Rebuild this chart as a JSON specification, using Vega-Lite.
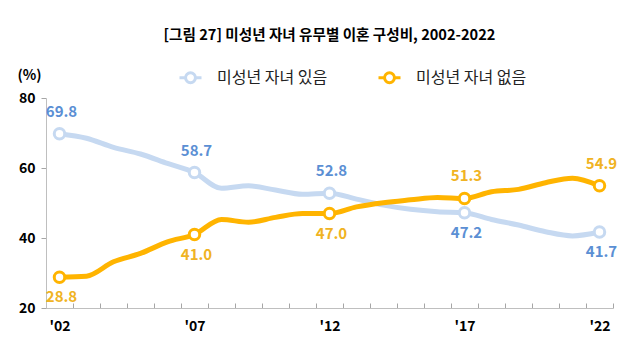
{
  "$schema": "https://vega.github.io/schema/vega-lite/v6.json",
  "width": 567,
  "height": 210,
  "autosize": {"type": "none"},
  "padding": {"left": 46, "top": 98, "right": 15, "bottom": 47},
  "background": "white",
  "title": {
    "text": "[그림 27] 미성년 자녀 유무별 이혼 구성비, 2002-2022",
    "font": "Noto Sans CJK KR",
    "fontSize": 14.6,
    "fontWeight": "bold",
    "color": "#000000",
    "anchor": "middle",
    "offset": 22
  },
  "config": {
    "view": {"stroke": null},
    "font": "Noto Sans CJK KR"
  },
  "data": {
    "values": [
      {"year": 2002, "series": "미성년 자녀 있음", "value": 69.8},
      {"year": 2003, "series": "미성년 자녀 있음", "value": 68.5},
      {"year": 2004, "series": "미성년 자녀 있음", "value": 65.9},
      {"year": 2005, "series": "미성년 자녀 있음", "value": 64.0},
      {"year": 2006, "series": "미성년 자녀 있음", "value": 61.3},
      {"year": 2007, "series": "미성년 자녀 있음", "value": 58.7},
      {"year": 2008, "series": "미성년 자녀 있음", "value": 54.2},
      {"year": 2009, "series": "미성년 자녀 있음", "value": 54.9},
      {"year": 2010, "series": "미성년 자녀 있음", "value": 53.7},
      {"year": 2011, "series": "미성년 자녀 있음", "value": 52.5},
      {"year": 2012, "series": "미성년 자녀 있음", "value": 52.8},
      {"year": 2013, "series": "미성년 자녀 있음", "value": 51.1},
      {"year": 2014, "series": "미성년 자녀 있음", "value": 49.4},
      {"year": 2015, "series": "미성년 자녀 있음", "value": 48.2},
      {"year": 2016, "series": "미성년 자녀 있음", "value": 47.5},
      {"year": 2017, "series": "미성년 자녀 있음", "value": 47.2},
      {"year": 2018, "series": "미성년 자녀 있음", "value": 45.3},
      {"year": 2019, "series": "미성년 자녀 있음", "value": 43.7},
      {"year": 2020, "series": "미성년 자녀 있음", "value": 41.8},
      {"year": 2021, "series": "미성년 자녀 있음", "value": 40.6},
      {"year": 2022, "series": "미성년 자녀 있음", "value": 41.7},
      {"year": 2002, "series": "미성년 자녀 없음", "value": 28.8},
      {"year": 2003, "series": "미성년 자녀 없음", "value": 29.1},
      {"year": 2004, "series": "미성년 자녀 없음", "value": 33.2},
      {"year": 2005, "series": "미성년 자녀 없음", "value": 35.6},
      {"year": 2006, "series": "미성년 자녀 없음", "value": 38.9},
      {"year": 2007, "series": "미성년 자녀 없음", "value": 41.0},
      {"year": 2008, "series": "미성년 자녀 없음", "value": 45.3},
      {"year": 2009, "series": "미성년 자녀 없음", "value": 44.5},
      {"year": 2010, "series": "미성년 자녀 없음", "value": 45.9},
      {"year": 2011, "series": "미성년 자녀 없음", "value": 47.0},
      {"year": 2012, "series": "미성년 자녀 없음", "value": 47.0},
      {"year": 2013, "series": "미성년 자녀 없음", "value": 48.9},
      {"year": 2014, "series": "미성년 자녀 없음", "value": 50.1},
      {"year": 2015, "series": "미성년 자녀 없음", "value": 50.9},
      {"year": 2016, "series": "미성년 자녀 없음", "value": 51.6},
      {"year": 2017, "series": "미성년 자녀 없음", "value": 51.3},
      {"year": 2018, "series": "미성년 자녀 없음", "value": 53.2},
      {"year": 2019, "series": "미성년 자녀 없음", "value": 53.9},
      {"year": 2020, "series": "미성년 자녀 없음", "value": 55.8},
      {"year": 2021, "series": "미성년 자녀 없음", "value": 57.1},
      {"year": 2022, "series": "미성년 자녀 없음", "value": 54.9}
    ]
  },
  "encoding": {
    "x": {
      "field": "year",
      "type": "ordinal",
      "scale": {"type": "band", "paddingInner": 0, "paddingOuter": 0},
      "axis": {
        "title": null,
        "labelAngle": 0,
        "labelExpr": "(datum.value - 2002) % 5 == 0 ? \"'\" + slice(toString(datum.value), 2) : ''",
        "labelFont": "Noto Sans CJK KR",
        "labelFontSize": 14,
        "labelFontWeight": "bold",
        "labelColor": "#000000",
        "labelPadding": 16,
        "tickBand": "extent",
        "tickSize": -5,
        "tickColor": "#a6a6a6",
        "domainColor": "#bfbfbf",
        "domainWidth": 1,
        "grid": false
      }
    },
    "y": {
      "field": "value",
      "type": "quantitative",
      "scale": {"domain": [20, 80], "nice": false, "zero": false},
      "axis": {
        "title": "(%)",
        "titleAngle": 0,
        "titleX": -17,
        "titleY": -23,
        "titleAlign": "center",
        "titleBaseline": "middle",
        "titleFont": "Noto Sans CJK KR",
        "titleFontSize": 14,
        "titleFontWeight": "bold",
        "titleColor": "#000000",
        "values": [20, 40, 60, 80],
        "labelFont": "Noto Sans CJK KR",
        "labelFontSize": 14,
        "labelFontWeight": "bold",
        "labelColor": "#000000",
        "labelPadding": 6,
        "tickSize": 5,
        "tickColor": "#a6a6a6",
        "domainColor": "#bfbfbf",
        "grid": false
      }
    }
  },
  "layer": [
    {
      "mark": {"type": "line", "interpolate": "monotone", "strokeWidth": 5},
      "encoding": {
        "color": {
          "field": "series",
          "type": "nominal",
          "scale": {
            "domain": ["미성년 자녀 있음", "미성년 자녀 없음"],
            "range": ["#c6d9f1", "#ffb400"]
          },
          "legend": {
            "title": null,
            "orient": "none",
            "direction": "horizontal",
            "legendX": 132,
            "legendY": -33,
            "symbolType": "M-1,0 L-0.45,0 M0.45,0 L1,0 M0.45,0 A0.45,0.45 0 1,1 -0.45,0 A0.45,0.45 0 1,1 0.45,0",
            "symbolSize": 484,
            "symbolStrokeWidth": 3,
            "symbolFillColor": "white",
            "symbolOpacity": 1,
            "labelFont": "Noto Sans CJK KR",
            "labelFontSize": 16,
            "labelColor": "#222222",
            "labelOffset": 14,
            "columnPadding": 44
          }
        },
        "order": {"field": "year"}
      }
    },
    {
      "transform": [{"filter": "(datum.year - 2002) % 5 == 0"}],
      "mark": {"type": "point", "filled": true, "fill": "white", "size": 110, "strokeWidth": 3, "opacity": 1},
      "encoding": {
        "stroke": {
          "condition": {"test": "datum.series == '미성년 자녀 있음'", "value": "#c6d9f1"},
          "value": "#ffb400"
        }
      }
    },
    {
      "transform": [
        {"filter": "(datum.year - 2002) % 5 == 0"},
        {"filter": "(datum.series == '미성년 자녀 있음' && datum.year <= 2012) || (datum.series == '미성년 자녀 없음' && datum.year >= 2017)"}
      ],
      "mark": {"type": "text", "dy": -22, "dx": 2, "fontSize": 15, "fontWeight": "bold", "font": "Noto Sans CJK KR"},
      "encoding": {
        "text": {"field": "value", "type": "quantitative", "format": ".1f"},
        "fill": {
          "condition": {"test": "datum.series == '미성년 자녀 있음'", "value": "#5b8fd4"},
          "value": "#f0b323"
        }
      }
    },
    {
      "transform": [
        {"filter": "(datum.year - 2002) % 5 == 0"},
        {"filter": "(datum.series == '미성년 자녀 있음' && datum.year >= 2017) || (datum.series == '미성년 자녀 없음' && datum.year <= 2012)"}
      ],
      "mark": {"type": "text", "dy": 20, "dx": 2, "fontSize": 15, "fontWeight": "bold", "font": "Noto Sans CJK KR"},
      "encoding": {
        "text": {"field": "value", "type": "quantitative", "format": ".1f"},
        "fill": {
          "condition": {"test": "datum.series == '미성년 자녀 있음'", "value": "#5b8fd4"},
          "value": "#f0b323"
        }
      }
    }
  ]
}
